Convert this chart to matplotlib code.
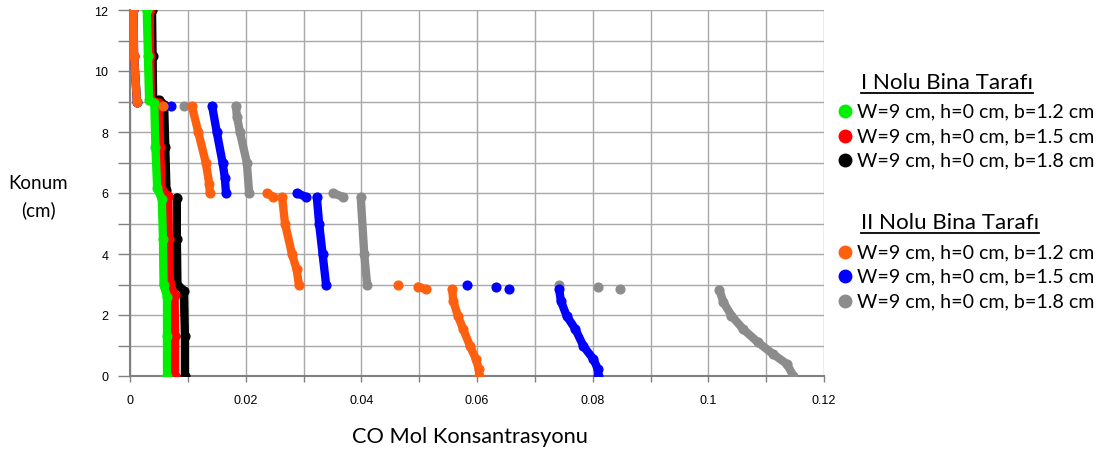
import numpy as np
import matplotlib
matplotlib.use("Agg")
import matplotlib.pyplot as plt
from matplotlib.lines import Line2D

nan = np.nan

# I Nolu Bina Tarafı
green_x = [0.0029, 0.0031, 0.0033, 0.0042, 0.0044, 0.0047, 0.0055, 0.0057, 0.0058, 0.0064, 0.0064, 0.0064]
green_y = [12.0, 10.5, 9.05, 8.95, 7.5, 6.15, 5.8, 4.5, 3.0, 2.6, 1.3, 0.0]
red_x = [0.0034, 0.0035, 0.0036, 0.0050, 0.0052, 0.0055, 0.0066, 0.0067, 0.0069, 0.0077, 0.0078, 0.0078]
red_y = [12.0, 10.5, 9.05, 8.95, 7.5, 6.1, 5.9, 4.5, 3.05, 2.65, 1.3, 0.0]
black_x = [0.0038, 0.0039, 0.0040, 0.0050, 0.0059, 0.0061, 0.0063, nan, 0.0081, 0.0081, 0.0082, 0.0093, 0.0095, 0.0095]
black_y = [12.0, 10.5, 9.05, 9.05, 8.9, 7.5, 6.1, nan, 5.85, 4.5, 3.0, 2.8, 1.3, 0.0]

# II Nolu Bina Tarafı
orange_x = [0.0006, 0.0007, 0.0012, nan, 0.0057, nan,
            0.0107, 0.0118, 0.0131, 0.0137, 0.0138, nan,
            0.0237, 0.0248, nan,
            0.0263, 0.0268, 0.0280, 0.0288, 0.0292, nan,
            0.0463, nan, 0.0498, 0.0512, nan,
            0.0557, 0.0559, 0.0567, 0.0576, 0.0588, 0.0598, 0.0603, 0.0604]
orange_y = [12.0, 10.5, 9.0, nan, 8.85, nan,
            8.85, 8.0, 7.0, 6.3, 6.0, nan,
            6.0, 5.87, nan,
            5.87, 5.0, 4.0, 3.5, 3.0, nan,
            3.0, nan, 2.93, 2.84, nan,
            2.85, 2.46, 1.97, 1.54, 0.98, 0.56, 0.23, 0.0]
blue_x = [0.0006, 0.0007, 0.0012, nan, 0.0071, nan,
          0.0142, 0.0150, 0.0160, 0.0164, 0.0166, nan,
          0.0289, 0.0304, nan,
          0.0323, 0.0327, 0.0333, 0.0339, nan,
          0.0583, nan, 0.0633, nan, 0.0655, nan,
          0.0742, 0.0745, 0.0755, 0.0770, 0.0784, 0.0801, 0.0809, 0.0810]
blue_y = [12.0, 10.5, 9.0, nan, 8.85, nan,
          8.85, 8.0, 7.0, 6.5, 6.0, nan,
          6.0, 5.87, nan,
          5.87, 5.0, 4.0, 3.0, nan,
          3.0, nan, 2.93, nan, 2.84, nan,
          2.85, 2.46, 1.97, 1.54, 0.98, 0.56, 0.23, 0.0]
gray_x = [0.0006, 0.0007, 0.0012, nan, 0.0093, nan,
          0.0183, 0.0185, 0.0190, 0.0202, 0.0206, nan,
          0.0351, 0.0368, nan,
          0.0399, 0.0405, 0.0410, nan,
          0.0742, nan, 0.0809, nan, 0.0847, nan,
          0.1019, 0.1026, 0.1040, 0.1060, 0.1086, 0.1112, 0.1136, 0.1147]
gray_y = [12.0, 10.5, 9.0, nan, 8.85, nan,
          8.85, 8.5, 8.0, 7.0, 6.0, nan,
          6.0, 5.87, nan,
          5.87, 4.0, 3.0, nan,
          3.0, nan, 2.93, nan, 2.84, nan,
          2.83, 2.42, 1.98, 1.54, 1.10, 0.72, 0.39, 0.0]

label = "W=9 cm, h=0 cm, b={} cm"
b_values = ["1.2", "1.5", "1.8"]
group1_title = "I Nolu Bina Tarafı"
group2_title = "II Nolu Bina Tarafı"
group1_colors = ["#00f000", "#ff0000", "#000000"]
group2_colors = ["#ff6010", "#0000ff", "#8c8c8c"]

W, H = 1107, 452
fig = plt.figure(figsize=(W / 100, H / 100), dpi=100)
ax = fig.add_axes([130 / W, 1 - 377 / H, 694 / W, 366 / H])

series = [(black_x, black_y, group1_colors[2]), (red_x, red_y, group1_colors[1]),
          (green_x, green_y, group1_colors[0]), (gray_x, gray_y, group2_colors[2]),
          (blue_x, blue_y, group2_colors[1]), (orange_x, orange_y, group2_colors[0])]
for xs, ys, c in series:
    ax.plot(xs, ys, "-o", color=c, lw=6, ms=6.3, solid_capstyle="round",
            solid_joinstyle="round", zorder=3)

ax.set_xlim(0, 0.12)
ax.set_ylim(0, 12)
ax.set_xticks(np.arange(0, 0.121, 0.02))
ax.set_xticks(np.arange(0.01, 0.12, 0.02), minor=True)
ax.set_yticks(np.arange(0, 13, 2))
ax.set_yticks(np.arange(1, 12, 2), minor=True)
ax.set_xticklabels(["0", "0.02", "0.04", "0.06", "0.08", "0.1", "0.12"])
ax.grid(True, which="both", color="#a8a8a8", lw=1)
ax.set_axisbelow(True)
for s in ["top", "right"]:
    ax.spines[s].set_visible(False)
for s in ["left", "bottom"]:
    ax.spines[s].set_color("#808080")
    ax.spines[s].set_linewidth(1.5)
ax.tick_params(axis="y", which="both", length=8.5, width=1, color="#808080",
               pad=7, labelsize=9)
ax.tick_params(axis="x", which="both", length=4, width=1, color="#808080",
               pad=9, labelsize=9)
for t in ax.get_xticklabels() + ax.get_yticklabels():
    t.set_fontfamily("Liberation Sans")

font = "Lato"
r = fig.canvas.get_renderer()


def fit(t, width):
    # scale font so the text spans about `width` pixels
    w = t.get_window_extent(r).width
    t.set_fontsize(t.get_fontsize() * width / w)


fig.text(38 / W, 1 - 197 / H, "Konum\n(cm)", ha="center", va="center",
         fontsize=13.5, family=font, linespacing=1.6)
xl = fig.text(470 / W, 1 - 437 / H, "CO Mol Konsantrasyonu", ha="center",
              va="center", fontsize=15.5, family=font)
fit(xl, 236)

# legend
titles = []
rows = [(group1_title, 83, group1_colors, [112, 137, 161], 172),
        (group2_title, 223, group2_colors, [253, 277, 302], 178)]
for title, ty, cols, ys, tw in rows:
    t = fig.text(861 / W, 1 - ty / H, title, ha="left", va="center",
                 fontsize=14, family=font)
    fit(t, tw)
    titles.append(t)
    for c, b, yy in zip(cols, b_values, ys):
        fig.add_artist(Line2D([845 / W], [1 - yy / H], marker="o", ms=9,
                              color=c, lw=0, transform=fig.transFigure))
        e = fig.text(857 / W, 1 - yy / H, label.format(b), ha="left",
                     va="center", fontsize=14, family=font)
        fit(e, 238)

fig.canvas.draw()
for t in titles:
    bb = t.get_window_extent(r)
    yline = bb.y0 - 1
    fig.add_artist(Line2D([bb.x0, bb.x1], [yline, yline], color="black", lw=1.3,
                          transform=None))

fig.savefig("out.png", dpi=100)
